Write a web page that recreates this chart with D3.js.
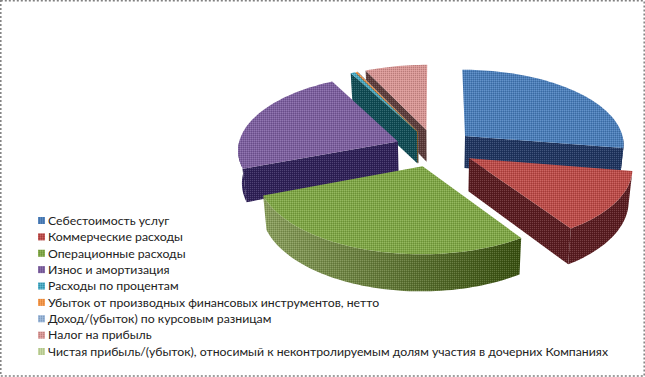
<!DOCTYPE html>
<html>
<head>
<meta charset="utf-8">
<script src="https://cdn.jsdelivr.net/npm/d3@7"></script>
<style>
  html, body { margin: 0; padding: 0; background: #fff; }
  svg { display: block; }
</style>
</head>
<body>
<div id="chart"></div>
<script>
const categories = [
    "Себестоимость услуг",
    "Коммерческие расходы",
    "Операционные расходы",
    "Износ и амортизация",
    "Расходы по процентам",
    "Убыток от производных финансовых инструментов, нетто",
    "Доход/(убыток) по курсовым разницам",
    "Налог на прибыль",
    "Чистая прибыль/(убыток), относимый к неконтролируемым долям участия в дочерних Компаниях",
];
const values = [27.6, 13, 28.6, 23, 0.5, 0.2, 0.05, 7.05, 0];
const topColors = ["#4a7ebb", "#be4b48", "#80a845", "#7d5fa0", "#46aac5", "#f79646", "#95b3d7", "#d99694", "#c3d69b"];
const wallColors = ["#1f3560", "#5a1c20", "#4a6420", "#2f2058", "#0f4c55", "#a85a10", "#55708f", "#5c3b3a", "#70855a"];

const width = 645, height = 377;
const cx = 435, cy = 148, radius = 160, tilt = 0.47, persp = 0.1, explode = 40, depth = 32.5;
const converge = 0.0006; // walls lean inwards going down

const svg = d3.select("#chart").append("svg")
    .attr("width", width)
    .attr("height", height);

const defs = svg.append("defs");

// the original is a low colour bitmap, this gives the same mottled fill
const dither = defs.append("pattern")
    .attr("id", "dither")
    .attr("width", 2).attr("height", 2)
    .attr("patternUnits", "userSpaceOnUse");
dither.append("rect").attr("width", 1).attr("height", 1).attr("fill", "#fff").attr("fill-opacity", 0.16);
dither.append("rect").attr("x", 1).attr("y", 1).attr("width", 1).attr("height", 1).attr("fill", "#000").attr("fill-opacity", 0.16);

const greenWall = defs.append("linearGradient").attr("id", "greenWall");
greenWall.append("stop").attr("offset", "0%").attr("stop-color", "#8a9f5c");
greenWall.append("stop").attr("offset", "100%").attr("stop-color", "#38500f");

// dotted frame of the pasted picture
svg.append("rect")
    .attr("x", 0.8).attr("y", 0.8)
    .attr("width", width - 1.6).attr("height", height - 1.8)
    .attr("fill", "none")
    .attr("stroke", "#808080")
    .attr("stroke-width", 1.5)
    .attr("stroke-dasharray", "2,2");

// pie plane -> screen, back of the pie is smaller than the front
function project(px, py, h) {
    const s = 1 / (1 + persp * py);
    return [cx + radius * px * s * (1 - converge * h), cy - radius * tilt * py * s + h * s];
}

const arcs = d3.pie().sort(null).value((d) => d)(values)
    .map((d, i) => ({ ...d, i, mid: (d.startAngle + d.endAngle) / 2 }))
    .filter((d) => d.value > 0);

const line = d3.line();

function slicePoint(d, a, r, h) {
    const ox = (explode / radius) * Math.sin(d.mid);
    const oy = (explode / radius) * Math.cos(d.mid);
    return project(ox + r * Math.sin(a), oy + r * Math.cos(a), h);
}

function arcPoints(d, a0, a1, h) {
    const n = Math.max(2, Math.ceil((a1 - a0) / 0.03));
    return d3.range(n + 1).map((k) => slicePoint(d, a0 + ((a1 - a0) * k) / n, 1, h));
}

function face(g, fill, pathD) {
    g.append("path").attr("fill", fill).attr("d", pathD);
    g.append("path").attr("fill", "url(#dither)").attr("d", pathD);
}

const order = arcs.slice().sort((a, b) => d3.descending(Math.cos(a.mid), Math.cos(b.mid)));

const slices = svg.append("g").selectAll("g").data(order).join("g");

slices.each(function (d) {
    const g = d3.select(this);
    const wall = wallColors[d.i];

    // cut faces, only the one turned to the viewer
    [d.startAngle, d.endAngle].forEach((a, k) => {
        const visible = k === 0 ? Math.sin(a) < 0 : Math.sin(a) > 0;
        if (!visible) return;
        face(g, wall, line([
            slicePoint(d, a, 0, 0),
            slicePoint(d, a, 1, 0),
            slicePoint(d, a, 1, depth),
            slicePoint(d, a, 0, depth),
        ]) + "Z");
    });

    // outer wall on the front half
    const a0 = Math.max(d.startAngle, Math.PI / 2);
    const a1 = Math.min(d.endAngle, (3 * Math.PI) / 2);
    if (a1 > a0) {
        face(g, d.i === 2 ? "url(#greenWall)" : wall,
            line(arcPoints(d, a0, a1, 0).concat(arcPoints(d, a0, a1, depth).reverse())) + "Z");
    }

    // top
    face(g, topColors[d.i],
        line([slicePoint(d, 0, 0, 0)].concat(arcPoints(d, d.startAngle, d.endAngle, 0))) + "Z");
});

// legend
const legendY = d3.scalePoint().domain(categories).range([220.5, 351.5]);
const legend = svg.append("g").selectAll("g").data(categories).join("g")
    .attr("transform", (d) => `translate(38,${legendY(d)})`);

legend.append("rect")
    .attr("y", -3.5)
    .attr("width", 7).attr("height", 7)
    .attr("fill", (d, i) => topColors[i]);

legend.append("rect")
    .attr("y", -3.5)
    .attr("width", 7).attr("height", 7)
    .attr("fill", "url(#dither)");

legend.append("text")
    .attr("x", 10)
    .attr("dy", "0.35em")
    .attr("font-family", "Lato")
    .attr("font-size", 12.27)
    .attr("fill", "#222")
    .text((d) => d);
</script>
</body>
</html>
